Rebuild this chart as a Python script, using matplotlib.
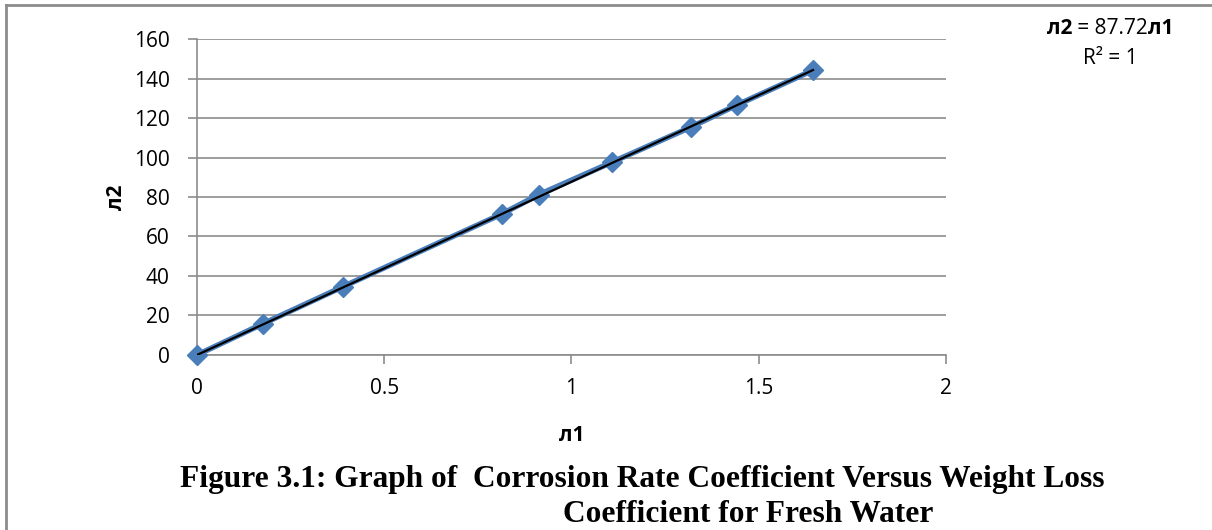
import matplotlib.pyplot as plt
from matplotlib.lines import Line2D

# data
lam1 = [0.0, 0.176, 0.39, 0.814, 0.913, 1.108, 1.319, 1.442, 1.645]
lam2 = [0.0, 15.8, 34.6, 71.4, 81.2, 97.6, 115.4, 126.6, 144.2]
slope = 87.72
x_ticks = [0, 0.5, 1, 1.5, 2]
y_ticks = [0, 20, 40, 60, 80, 100, 120, 140, 160]

BLUE = "#4A7EBB"
GRAY = "#8C8C8C"
SANS = ["Open Sans", "DejaVu Sans"]

fig = plt.figure(figsize=(12.12, 5.30), dpi=100)
ax = fig.add_axes([0.1625, 0.3302, 0.618, 0.5962])

ax.plot(lam1, lam2, color=BLUE, lw=4, marker="D", markersize=10.5,
        markerfacecolor=BLUE, markeredgecolor=BLUE, zorder=3, clip_on=False)
trend_x = [lam1[0], lam1[-1]]
ax.plot(trend_x, [slope * v for v in trend_x], color="black", lw=1.6, zorder=4)

ax.set_xlim(0, 2)
ax.set_ylim(0, 160)
ax.set_xticks(x_ticks)
ax.set_xticklabels(["0", "0.5", "1", "1.5", "2"])
ax.set_yticks(y_ticks)
ax.grid(axis="y", color=GRAY, lw=1.2)
ax.set_axisbelow(True)
for s in ["top", "right"]:
    ax.spines[s].set_visible(False)
for s in ["left", "bottom"]:
    ax.spines[s].set_color(GRAY)
    ax.spines[s].set_linewidth(1.2)
ax.tick_params(colors=GRAY, length=6.5, width=1.2, labelcolor="black",
               labelsize=15)
ax.tick_params(axis="x", pad=10)
ax.tick_params(axis="y", pad=13)
for lab in ax.get_xticklabels() + ax.get_yticklabels():
    lab.set_family(SANS)

ax.set_xlabel("л1", fontsize=15, fontweight="bold", family=SANS, labelpad=18.5)
ax.set_ylabel("л2", fontsize=15, fontweight="bold", family=SANS, labelpad=5)

# trendline equation, pieces laid out one after another
fig.canvas.draw()
renderer = fig.canvas.get_renderer()
pieces = [("л2", "bold"), (" = 87.72", "normal"), ("л1", "bold")]
widths = []
for txt, w in pieces:
    t = fig.text(0, 0, txt, fontsize=15, fontweight=w, family=SANS)
    widths.append(t.get_window_extent(renderer).width)
    t.remove()
x0 = 1110 - sum(widths) / 2
for (txt, w), wd in zip(pieces, widths):
    fig.text(x0 / 1212, 1 - 28 / 530, txt, fontsize=15, fontweight=w,
             family=SANS, va="center")
    x0 += wd
fig.text(1110 / 1212, 1 - 58 / 530, "R² = 1", fontsize=15, family=SANS,
         ha="center", va="center")

# caption
fig.text(642 / 1212, 1 - 480 / 530,
         "Figure 3.1: Graph of  Corrosion Rate Coefficient Versus Weight Loss",
         fontsize=22.6, fontweight="bold", family="Liberation Serif",
         ha="center", va="center")
fig.text(563 / 1212, 1 - 514 / 530, "Coefficient for Fresh Water",
         fontsize=22.6, fontweight="bold", family="Liberation Serif",
         ha="left", va="center")

# chart frame (top and left edges visible)
fig.add_artist(Line2D([6 / 1212, 1], [1 - 5 / 530] * 2, color=GRAY, lw=2,
                      transform=fig.transFigure))
fig.add_artist(Line2D([6 / 1212] * 2, [0, 1 - 5 / 530], color=GRAY, lw=2,
                      transform=fig.transFigure))

fig.savefig("out.png", dpi=100)
